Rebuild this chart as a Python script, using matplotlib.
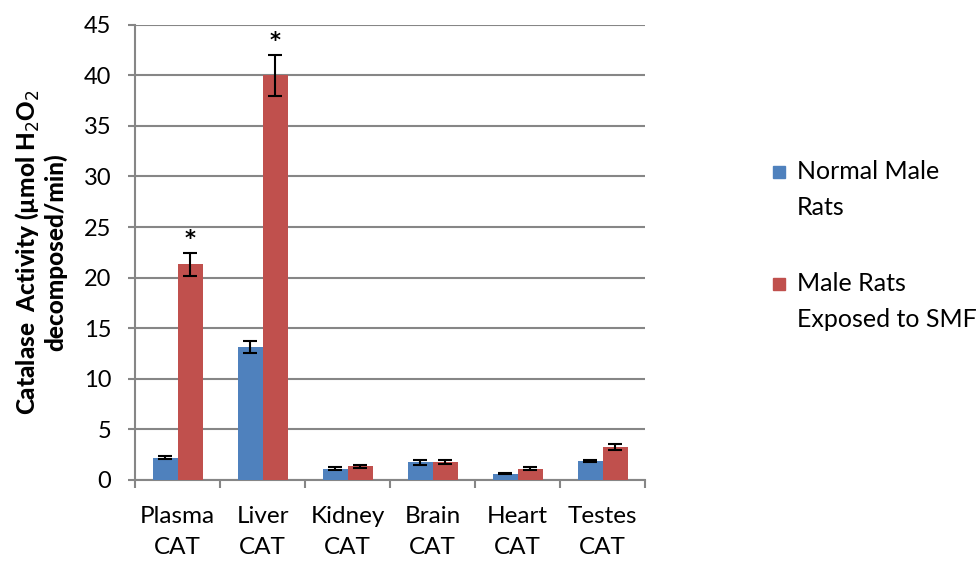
import matplotlib
matplotlib.use("Agg")
import matplotlib.pyplot as plt
import matplotlib.patches as mpatches
import numpy as np

categories = ["Plasma\nCAT", "Liver\nCAT", "Kidney\nCAT", "Brain\nCAT", "Heart\nCAT", "Testes\nCAT"]
series = ["Normal Male\nRats", "Male Rats\nExposed to SMF"]
normal = [2.2, 13.1, 1.1, 1.75, 0.62, 1.9]
normal_err = [0.12, 0.6, 0.15, 0.25, 0.08, 0.12]
smf = [21.3, 40.0, 1.35, 1.75, 1.1, 3.3]
smf_err = [1.1, 2.0, 0.15, 0.2, 0.15, 0.3]
significant = [True, True, False, False, False, False]

BLUE = "#4F81BD"
RED = "#C0504D"
GRID = "#868686"

plt.rcParams["font.family"] = ["Lato", "DejaVu Sans"]

fig = plt.figure(figsize=(9.79, 5.62), dpi=100)
ax = fig.add_axes([0.138, 0.146, 0.521, 0.81])

x = np.arange(len(categories))
w = 0.295
ax.bar(x - w / 2, normal, w, color=BLUE, zorder=3)
ax.bar(x + w / 2, smf, w, color=RED, zorder=3)
ax.errorbar(x - w / 2, normal, yerr=normal_err, fmt="none", ecolor="black",
            elinewidth=1.5, capsize=5, capthick=1.5, zorder=4)
ax.errorbar(x + w / 2, smf, yerr=smf_err, fmt="none", ecolor="black",
            elinewidth=1.5, capsize=5, capthick=1.5, zorder=4)

# significance markers above the SMF bars
for i, sig in enumerate(significant):
    if sig:
        ax.text(x[i] + w / 2, smf[i] + smf_err[i] + 0.4, "*", ha="center",
                va="bottom", fontsize=15, fontweight="bold", family="DejaVu Sans")

ax.set_xlim(-0.5, len(categories) - 0.5)
ax.set_ylim(0, 45)
ax.set_yticks(range(0, 46, 5))
ax.set_xticks(x)
ax.set_xticklabels(categories, fontsize=17.5, linespacing=1.55)
ax.set_xticks(np.arange(-0.5, len(categories), 1), minor=True)
ax.tick_params(axis="x", which="major", length=0, pad=19)
ax.tick_params(axis="x", which="minor", length=6, width=1.5, color=GRID)
ax.tick_params(axis="y", labelsize=17, length=5, width=1.5, color=GRID, pad=12)

ax.yaxis.grid(True, color=GRID, linewidth=1.5, zorder=0)
ax.set_axisbelow(True)
for s in ["top", "right"]:
    ax.spines[s].set_visible(False)
for s in ["left", "bottom"]:
    ax.spines[s].set_color(GRID)
    ax.spines[s].set_linewidth(1.5)

ax.set_ylabel("Catalase  Activity (\u00b5mol H$_2$O$_2$\ndecomposed/min)",
              fontsize=17.5, fontweight="black", labelpad=12, linespacing=1.15)

# legend: square beside the first line of each entry
W, H = 979.0, 562.0
for name, color, yc in zip(series, [BLUE, RED], [172, 284]):
    fig.patches.append(mpatches.Rectangle((773 / W, 1 - (yc + 6) / H), 12 / W, 12 / H,
                                          transform=fig.transFigure, color=color))
    fig.text(797 / W, 1 - (yc + 17.5) / H, name, fontsize=18, va="center",
             ha="left", linespacing=1.65)

fig.savefig("out.png", dpi=100)
